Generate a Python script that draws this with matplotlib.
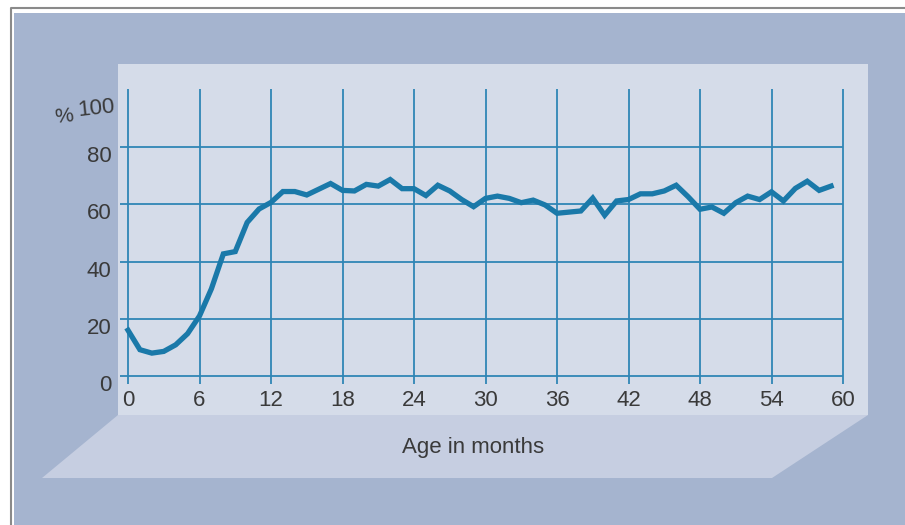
import numpy as np
import matplotlib
matplotlib.use("Agg")
import matplotlib.pyplot as plt
from matplotlib.patches import Polygon, Rectangle
import matplotlib.transforms as mtransforms

plt.rcParams['font.family'] = ['Liberation Sans', 'DejaVu Sans']

# data (percent by month of age)
months = np.arange(0, 60)
percent = [16, 9.2, 8.0, 8.6, 10.9, 14.8, 21, 30.5, 42.7, 43.5,
           53.7, 58.4, 60.7, 64.5, 64.5, 63.3, 65.3, 67.3, 64.9, 64.7,
           67, 66.4, 68.7, 65.5, 65.5, 63.1, 66.7, 64.7, 61.7, 59.2,
           62.1, 62.9, 62.1, 60.6, 61.5, 59.8, 56.9, 57.3, 57.7, 62.2,
           56.2, 61.2, 61.7, 63.7, 63.7, 64.7, 66.7, 62.7, 58.3, 59.1,
           56.9, 60.6, 62.9, 61.7, 64.4, 61.2, 65.6, 68.1, 64.9, 66.4]
xticks = [0, 6, 12, 18, 24, 30, 36, 42, 48, 54, 60]
yticks = [0, 20, 40, 60, 80]
xlabel = "Age in months"

W, H = 905, 525
fs = 16
tc = '#3a3a3a'
fig = plt.figure(figsize=(W / 100, H / 100), dpi=100)
fig.patch.set_facecolor('white')

# backdrop in pixel coordinates
bg = fig.add_axes([0, 0, 1, 1])
bg.set_xlim(0, W)
bg.set_ylim(H, 0)
bg.axis('off')
bg.add_patch(Rectangle((14, 13), W - 14, H - 13, facecolor='#a5b4cf', edgecolor='none'))
bg.plot([11, 11, W], [H, 8, 8], color='#8a8a8a', lw=1.5)
# back panel
bg.add_patch(Rectangle((118, 64), 750, 351, facecolor='#d5dce9', edgecolor='none'))
# floor
bg.add_patch(Polygon([(118, 415), (868, 415), (772, 478), (42, 478)],
                     closed=True, facecolor='#c6cee1', edgecolor='none'))
bg.text(473, 447, xlabel, ha='center', va='center', fontsize=fs, color=tc)
# "%100" label, slightly tilted, with a smaller percent sign
bg.text(64, 117, "%", ha='center', va='center', fontsize=15, color=tc, rotation=6)
bg.text(96, 109, "100", ha='center', va='center', fontsize=fs, color=tc, rotation=6)

# chart
ax = fig.add_axes([128 / W, (H - 376) / H, 715 / W, 286 / H])
ax.set_xlim(0, 60)
ax.set_ylim(0, 100)
ax.patch.set_alpha(0)
for s in ax.spines.values():
    s.set_visible(False)

gridc = '#2f86b6'
ax.hlines(yticks, -0.7, 60, color=gridc, lw=1.3, clip_on=False, zorder=1)
ax.vlines(xticks, -2.8, 100.5, color=gridc, lw=1.3, clip_on=False, zorder=1)
ax.plot(months, percent, color='#1a79a9', lw=3.8, solid_joinstyle='miter',
        clip_on=False, zorder=3)

ax.set_xticks(xticks)
ax.set_xticklabels([str(v) for v in xticks])
ax.set_yticks(yticks)
ax.set_yticklabels([str(v) for v in yticks])
ax.tick_params(length=0, labelsize=fs, labelcolor=tc)
ax.tick_params(axis='x', pad=10)
ax.tick_params(axis='y', pad=12)
down = mtransforms.ScaledTranslation(0, -7 / 100, fig.dpi_scale_trans)
for lab in ax.get_yticklabels():
    lab.set_transform(lab.get_transform() + down)

fig.savefig('out.png', dpi=100)
